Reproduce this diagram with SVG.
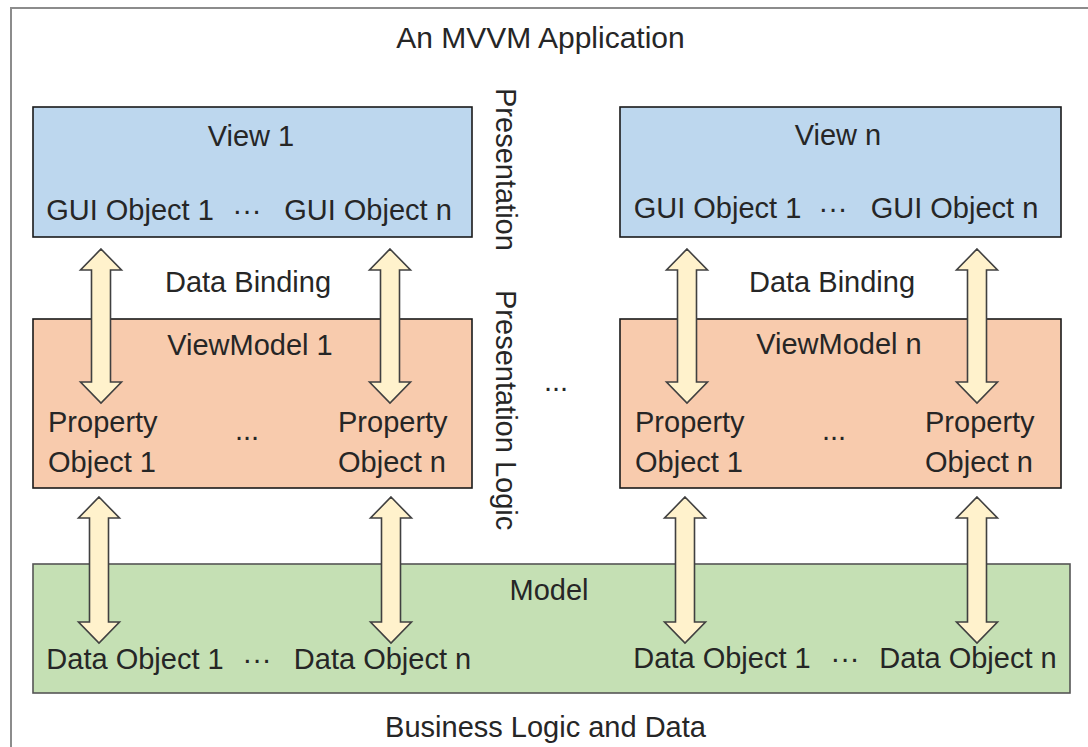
<svg xmlns="http://www.w3.org/2000/svg" width="1088" height="747" viewBox="0 0 1088 747">
  <style>
    text { font-family: "Liberation Sans", Arial, sans-serif; font-size: 29px; fill: #262626; }
    .c { text-anchor: middle; }
    .view { fill: #BDD7EE; stroke: #1a1a1a; stroke-width: 1.6; }
    .vm { fill: #F8CBAD; stroke: #1a1a1a; stroke-width: 1.6; }
    .model { fill: #C5E0B4; stroke: #555; stroke-width: 1.6; }
    .arrow { fill: #FFF2CC; stroke: #404040; stroke-width: 1.6; stroke-linejoin: miter; }
  </style>
  <defs>
    <!-- double-headed block arrow, 154px tall, centred on x=0 -->
    <path id="dbl154" d="M0,0 L20.5,21 L9.5,21 L9.5,133 L20.5,133 L0,154 L-20.5,133 L-9.5,133 L-9.5,21 L-20.5,21 Z"/>
    <!-- double-headed block arrow, 146px tall -->
    <path id="dbl146" d="M0,0 L20.5,21 L9.5,21 L9.5,125 L20.5,125 L0,146 L-20.5,125 L-9.5,125 L-9.5,21 L-20.5,21 Z"/>
  </defs>

  <rect width="1088" height="747" fill="#ffffff"/>

  <!-- application frame -->
  <g id="frame">
    <rect x="11" y="8" width="1100" height="760" fill="none" stroke="#8c8c8c" stroke-width="2"/>
    <text class="c" x="540.5" y="48" style="font-size:30px">An MVVM Application</text>
    <text class="c" x="545.5" y="737">Business Logic and Data</text>
  </g>

  <!-- layer captions -->
  <g id="layer-labels">
    <text transform="translate(496,88) rotate(90)">Presentation</text>
    <text transform="translate(496,290) rotate(90)">Presentation Logic</text>
    <text class="c" x="556" y="391">...</text>
  </g>

  <g id="view-1">
    <rect class="view" x="33" y="107" width="439" height="130"/>
    <text class="c" x="251" y="146">View 1</text>
    <text class="c" x="130" y="220">GUI Object 1</text>
    <text class="c" x="247" y="220">···</text>
    <text class="c" x="368" y="220">GUI Object n</text>
  </g>

  <g id="view-n">
    <rect class="view" x="620" y="107" width="441" height="130"/>
    <text class="c" x="838" y="145">View n</text>
    <text class="c" x="717.5" y="218">GUI Object 1</text>
    <text class="c" x="833" y="218">···</text>
    <text class="c" x="954.5" y="218">GUI Object n</text>
  </g>

  <g id="viewmodel-1">
    <rect class="vm" x="33" y="319" width="439" height="169"/>
    <text class="c" x="250" y="355">ViewModel 1</text>
    <text x="48" y="432">Property</text>
    <text x="48" y="472">Object 1</text>
    <text class="c" x="247" y="440">...</text>
    <text x="338" y="432">Property</text>
    <text x="338" y="472">Object n</text>
  </g>

  <g id="viewmodel-n">
    <rect class="vm" x="620" y="319" width="441" height="169"/>
    <text class="c" x="839" y="354">ViewModel n</text>
    <text x="635" y="432">Property</text>
    <text x="635" y="472">Object 1</text>
    <text class="c" x="834" y="440">...</text>
    <text x="925" y="432">Property</text>
    <text x="925" y="472">Object n</text>
  </g>

  <g id="model">
    <rect class="model" x="33" y="564" width="1037" height="129"/>
    <text class="c" x="549" y="600">Model</text>
    <text class="c" x="135" y="669">Data Object 1</text>
    <text class="c" x="257" y="669">···</text>
    <text class="c" x="382.5" y="669">Data Object n</text>
    <text class="c" x="722" y="668">Data Object 1</text>
    <text class="c" x="845" y="668">···</text>
    <text class="c" x="968" y="668">Data Object n</text>
  </g>

  <!-- bindings between layers -->
  <g id="connectors">
    <text class="c" x="248" y="292">Data Binding</text>
    <text class="c" x="832" y="292">Data Binding</text>
    <use href="#dbl154" class="arrow" x="101" y="249"/>
    <use href="#dbl154" class="arrow" x="390" y="249"/>
    <use href="#dbl154" class="arrow" x="687" y="249"/>
    <use href="#dbl154" class="arrow" x="977" y="249"/>
    <use href="#dbl146" class="arrow" x="99" y="497"/>
    <use href="#dbl146" class="arrow" x="391" y="497"/>
    <use href="#dbl146" class="arrow" x="685" y="497"/>
    <use href="#dbl146" class="arrow" x="977" y="497"/>
  </g>
</svg>
